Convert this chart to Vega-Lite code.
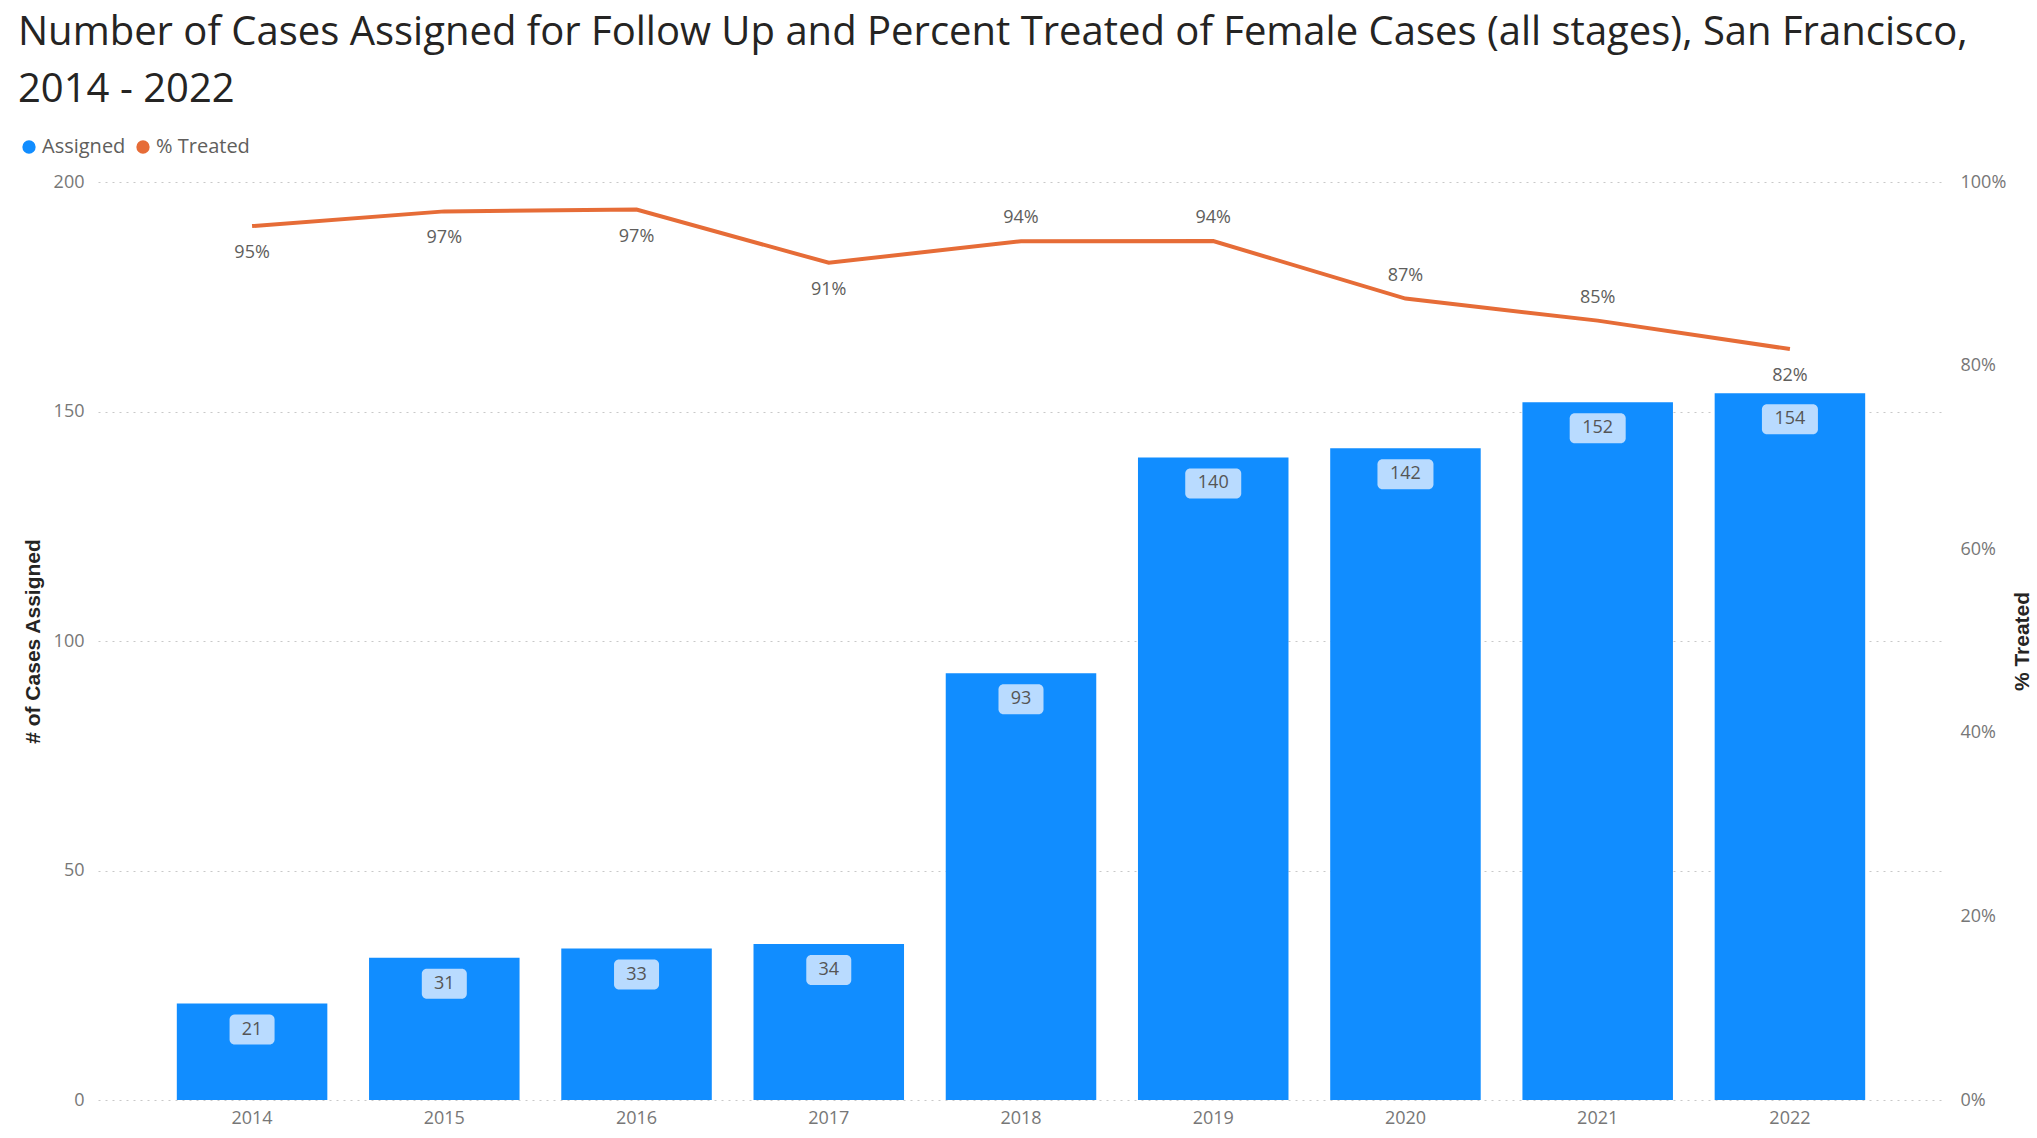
{
  "$schema": "https://vega.github.io/schema/vega-lite/v6.json",
  "width": 1846,
  "height": 918,
  "autosize": "none",
  "padding": {"left": 98, "top": 182, "right": 93, "bottom": 38},
  "background": "white",
  "title": {
    "text": ["Number of Cases Assigned for Follow Up and Percent Treated of Female Cases (all stages), San Francisco,", "2014 - 2022"],
    "anchor": "start",
    "frame": "group",
    "dx": -80,
    "offset": 27,
    "fontSize": 40,
    "lineHeight": 57,
    "font": "Open Sans",
    "fontWeight": "normal",
    "color": "#252423"
  },
  "config": {
    "font": "Open Sans",
    "view": {"stroke": null},
    "axis": {"labelFont": "Open Sans", "labelFontSize": 18, "labelColor": "#777777", "titleFont": "Liberation Sans", "titleFontSize": 21, "titleFontWeight": "bold", "titleColor": "#252423"}
  },
  "data": {
    "values": [
      {"year": "2014", "assigned": 21, "pct": 0.952},
      {"year": "2015", "assigned": 31, "pct": 0.968},
      {"year": "2016", "assigned": 33, "pct": 0.970},
      {"year": "2017", "assigned": 34, "pct": 0.912},
      {"year": "2018", "assigned": 93, "pct": 0.9355},
      {"year": "2019", "assigned": 140, "pct": 0.9357},
      {"year": "2020", "assigned": 142, "pct": 0.873},
      {"year": "2021", "assigned": 152, "pct": 0.849},
      {"year": "2022", "assigned": 154, "pct": 0.818}
    ]
  },
  "encoding": {
    "x": {
      "field": "year",
      "type": "ordinal",
      "scale": {"paddingInner": 0.217, "paddingOuter": 0.41},
      "axis": {"title": null, "labelAngle": 0, "domain": false, "ticks": false, "labelPadding": 9}
    }
  },
  "layer": [
    {
      "encoding": {
        "y": {
          "field": "assigned",
          "type": "quantitative",
          "scale": {"domain": [0, 200], "nice": false},
          "axis": {
            "title": "# of Cases Assigned",
            "values": [0, 50, 100, 150, 200],
            "domain": false,
            "ticks": false,
            "labelPadding": 14,
            "titlePadding": 10,
            "grid": true,
            "gridDash": [2, 5],
            "gridColor": "#C8C8C8",
            "gridWidth": 1
          }
        }
      },
      "layer": [
        {
          "mark": {"type": "bar", "color": "#118DFF"},
          "encoding": {
            "color": {
              "datum": "Assigned",
              "type": "nominal",
              "scale": {"domain": ["Assigned", "% Treated"], "range": ["#118DFF", "#E66C37"]},
              "legend": {
                "title": null,
                "orient": "none",
                "legendX": -79,
                "legendY": -45,
                "direction": "horizontal",
                "symbolType": "circle",
                "symbolSize": 177,
                "symbolStrokeWidth": 0,
                "labelFontSize": 20,
                "labelFont": "Open Sans",
                "labelColor": "#605E5C",
                "labelOffset": 3,
                "columnPadding": 7,
                "encode": {"symbols": {"update": {"fill": {"scale": "color", "field": "value"}, "opacity": {"value": 1}}}}
              }
            }
          }
        },
        {
          "transform": [{"filter": "datum.assigned < 100"}],
          "mark": {"type": "bar", "width": 45, "cornerRadius": 5, "color": "#B9DBFF", "yOffset": 11, "y2Offset": 41},
          "encoding": {"y2": {"field": "assigned"}}
        },
        {
          "transform": [{"filter": "datum.assigned >= 100"}],
          "mark": {"type": "bar", "width": 56, "cornerRadius": 5, "color": "#B9DBFF", "yOffset": 11, "y2Offset": 41},
          "encoding": {"y2": {"field": "assigned"}}
        },
        {
          "mark": {"type": "text", "dy": 26, "baseline": "middle", "fontSize": 18, "color": "#555555", "font": "Open Sans"},
          "encoding": {"text": {"field": "assigned", "type": "quantitative"}}
        }
      ]
    },
    {
      "encoding": {
        "y": {
          "field": "pct",
          "type": "quantitative",
          "scale": {"domain": [0, 1], "nice": false},
          "axis": {
            "title": "% Treated",
            "orient": "right",
            "format": ".0%",
            "values": [0, 0.2, 0.4, 0.6, 0.8, 1.0],
            "domain": false,
            "ticks": false,
            "grid": false,
            "labelPadding": 16,
            "titlePadding": 27,
            "titleAngle": 270
          }
        }
      },
      "layer": [
        {
          "mark": {"type": "line", "strokeWidth": 4, "color": "#E66C37"},
          "encoding": {"color": {"datum": "% Treated", "type": "nominal"}}
        },
        {
          "transform": [{"filter": "datum.year >= '2018' && datum.year <= '2021'"}],
          "mark": {"type": "text", "dy": -23, "baseline": "middle", "fontSize": 18, "color": "#605E5C", "font": "Open Sans"},
          "encoding": {"text": {"field": "pct", "type": "quantitative", "format": ".0%"}}
        },
        {
          "transform": [{"filter": "datum.year < '2018' || datum.year > '2021'"}],
          "mark": {"type": "text", "dy": 27, "baseline": "middle", "fontSize": 18, "color": "#605E5C", "font": "Open Sans"},
          "encoding": {"text": {"field": "pct", "type": "quantitative", "format": ".0%"}}
        }
      ]
    }
  ],
  "resolve": {"scale": {"y": "independent"}}
}
